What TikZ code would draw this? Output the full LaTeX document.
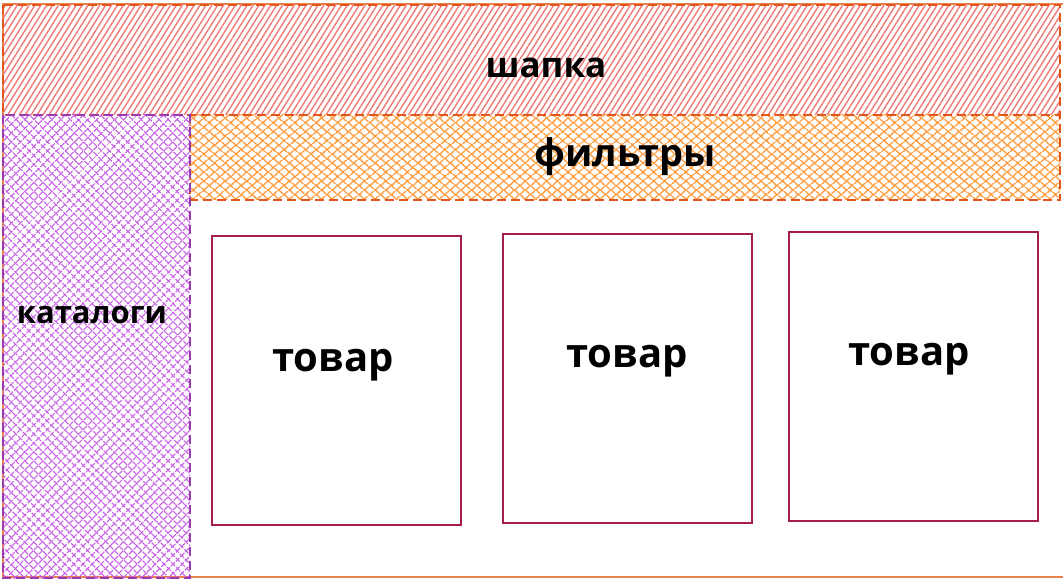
\documentclass[tikz,border=0pt]{standalone}
\usepackage{fontspec}
\setmainfont{Open Sans}
\usetikzlibrary{patterns.meta}
\definecolor{hdrline}{HTML}{F07878}
\definecolor{hdrborder}{HTML}{E0561B}
\definecolor{fltline}{HTML}{FF9530}
\definecolor{fltborder}{HTML}{E0561B}
\definecolor{catline}{HTML}{C455E4}
\definecolor{catborder}{HTML}{9A3AAE}
\definecolor{prodborder}{HTML}{A51C4E}
\definecolor{frameline}{HTML}{E8834E}
\tikzset{
  zone/.style={dashed, dash pattern=on 9pt off 5pt, line width=1.2pt},
  prodbox/.style={draw=prodborder, line width=1.2pt, fill=white},
  lbl/.style={font=\bfseries, text=black, anchor=base, inner sep=0pt},
}
\begin{document}
\begin{tikzpicture}[x=1pt,y=-1pt]
\useasboundingbox (0,0) rectangle (1063,580);
\fill[white] (0,0) rectangle (1063,580);
% outer frame (right edge falls outside the page)
\draw[frameline, line width=1.6pt] (3,4) rectangle (1066,577);
% header
\fill[pattern={Lines[angle=58,distance=5pt,line width=1.4pt]}, pattern color=hdrline] (3,5) rectangle (1060,115);
\draw[hdrborder, zone] (3,5) rectangle (1060,115);
\node[lbl, font=\bfseries\fontsize{35}{40}\selectfont] (hdr) at (546,78) {шапка};
% filters
\fill[pattern={Lines[angle=40,distance=6.5pt,line width=1.4pt]}, pattern color=fltline] (190,115) rectangle (1060,200);
\fill[pattern={Lines[angle=-40,distance=6.5pt,line width=1.4pt]}, pattern color=fltline] (190,115) rectangle (1060,200);
\draw[fltborder, zone] (190,115) rectangle (1060,200);
\node[lbl, font=\bfseries\fontsize{38}{44}\selectfont] (flt) at (625,167) {фильтры};
% catalog
\fill[pattern={Lines[angle=45,distance=6.5pt,line width=1.4pt]}, pattern color=catline] (3,115) rectangle (190,578);
\fill[pattern={Lines[angle=-45,distance=6.5pt,line width=1.4pt]}, pattern color=catline] (3,115) rectangle (190,578);
\draw[catborder, zone] (3,115) rectangle (190,578);
\node[lbl, font=\bfseries\fontsize{31}{36}\selectfont] (cat) at (92,323) {каталоги};
% products
\draw[prodbox] (212,236) rectangle (461,525);
\draw[prodbox] (503,234) rectangle (752,523);
\draw[prodbox] (789,232) rectangle (1038,521);
\node[lbl, font=\bfseries\fontsize{40}{46}\selectfont] (p1) at (333,371) {товар};
\node[lbl, font=\bfseries\fontsize{40}{46}\selectfont] (p2) at (627,367) {товар};
\node[lbl, font=\bfseries\fontsize{40}{46}\selectfont] (p3) at (909,365) {товар};
\end{tikzpicture}
\end{document}
